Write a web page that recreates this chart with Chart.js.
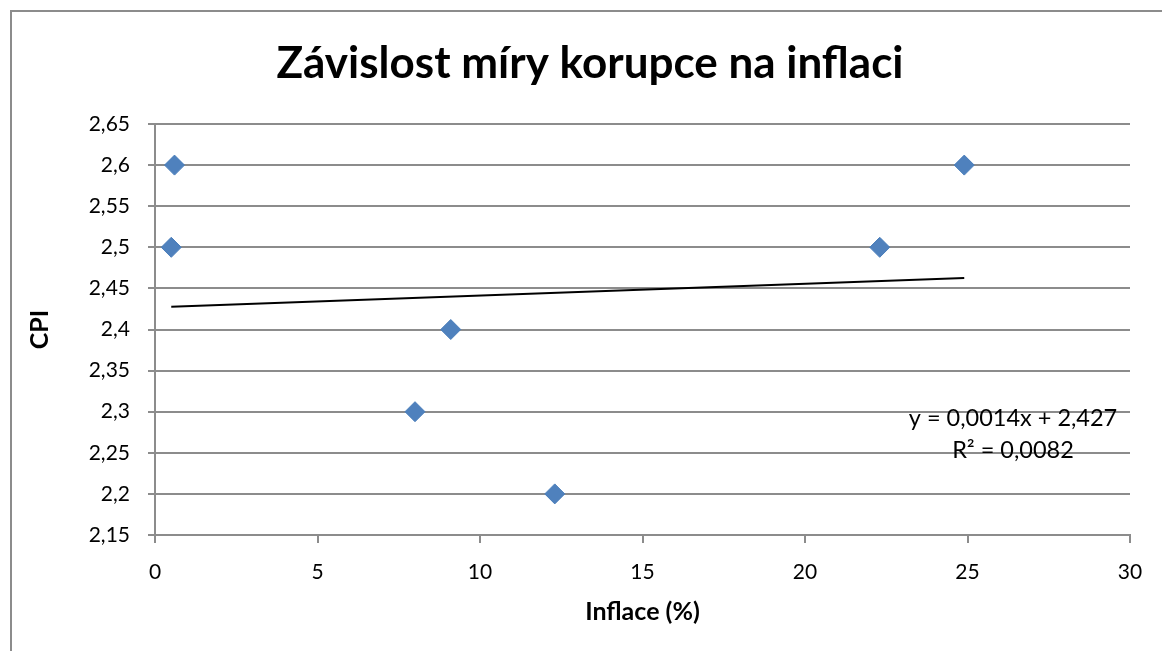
<!DOCTYPE html>
<html>
<head>
<meta charset="utf-8">
<script src="https://cdn.jsdelivr.net/npm/chart.js@4"></script>
<style>
    html, body { margin: 0; padding: 0; background: #fff; }
    #wrap { width: 1162px; height: 651px; }
</style>
</head>
<body>
<div id="wrap"><canvas id="chart" width="1162" height="651"></canvas></div>
<script>
// Data
const inflace = [0.6, 0.5, 8.0, 9.1, 12.3, 22.3, 24.9];
const cpi = [2.6, 2.5, 2.3, 2.4, 2.2, 2.5, 2.6];
const xTicks = [0, 5, 10, 15, 20, 25, 30];
const yTicks = [2.15, 2.2, 2.25, 2.3, 2.35, 2.4, 2.45, 2.5, 2.55, 2.6, 2.65];

const titleText = 'Závislost míry korupce na inflaci';
const xTitle = 'Inflace (%)';
const yTitle = 'CPI';

const fontFamily = 'Lato, "Open Sans", sans-serif';
const gridColor = '#8c8c8c';

// linear trendline (least squares) like the Excel one
function linearFit(xs, ys) {
    const n = xs.length;
    const mx = xs.reduce((a, b) => a + b, 0) / n;
    const my = ys.reduce((a, b) => a + b, 0) / n;
    let sxy = 0, sxx = 0, syy = 0;
    for (let i = 0; i < n; i++) {
        sxy += (xs[i] - mx) * (ys[i] - my);
        sxx += (xs[i] - mx) ** 2;
        syy += (ys[i] - my) ** 2;
    }
    const slope = sxy / sxx;
    return { slope: slope, intercept: my - slope * mx, r2: (sxy * sxy) / (sxx * syy) };
}
const fit = linearFit(inflace, cpi);
const trendX = [Math.min(...inflace), Math.max(...inflace)];
const comma = s => s.replace('.', ',');

const points = inflace.map((x, i) => ({ x: x, y: cpi[i] }));
const trend = trendX.map(x => ({ x: x, y: fit.intercept + fit.slope * x }));

// outer frame, title and equation text
const extras = {
    id: 'extras',
    beforeDraw(chart) {
        const c = chart.ctx;
        c.save();
        c.fillStyle = '#fff';
        c.fillRect(0, 0, chart.width, chart.height);
        c.strokeStyle = gridColor;
        c.lineWidth = 2;
        c.strokeRect(11, 11, chart.width + 20, chart.height + 20);

        // title is centred on the whole frame, not on the padded box
        c.fillStyle = '#000';
        c.font = 'bold 44px ' + fontFamily;
        c.textAlign = 'center';
        c.textBaseline = 'alphabetic';
        c.fillText(titleText, 590, 78);
        c.restore();
    },
    afterDatasetsDraw(chart) {
        const c = chart.ctx;
        const area = chart.chartArea;
        c.save();
        c.font = '23.5px ' + fontFamily;
        c.fillStyle = '#000';
        c.textAlign = 'center';
        c.textBaseline = 'middle';
        const cx = area.right - 117;
        c.fillText('y = ' + comma(fit.slope.toFixed(4)) + 'x + ' + comma(fit.intercept.toFixed(3)), cx, area.top + 294);
        c.fillText('R² = ' + comma(fit.r2.toFixed(4)), cx, area.top + 326);
        c.restore();
    }
};

const ctx = document.getElementById('chart').getContext('2d');
const chart = new Chart(ctx, {
    type: 'scatter',
    data: {
        datasets: [{
            label: 'CPI',
            data: points,
            pointStyle: 'rectRot',
            pointRadius: 10,
            pointHoverRadius: 10,
            backgroundColor: '#4F81BD',
            borderColor: '#4A7EBB',
            borderWidth: 1,
            order: 1
        }, {
            label: 'Trend',
            type: 'line',
            data: trend,
            borderColor: '#000',
            borderWidth: 2,
            pointRadius: 0,
            fill: false,
            order: 2
        }]
    },
    options: {
        responsive: false,
        animation: false,
        layout: { padding: { left: 0, right: 32, top: 124, bottom: 0 } },
        plugins: {
            legend: { display: false },
            tooltip: { enabled: false },
            title: { display: false }
        },
        scales: {
            x: {
                type: 'linear',
                min: 0,
                max: 30,
                afterBuildTicks: s => { s.ticks = xTicks.map(v => ({ value: v })); },
                afterFit: s => { s.height = 116; },
                grid: { drawOnChartArea: false, drawTicks: true, tickLength: 8, color: gridColor, lineWidth: 2 },
                border: { display: true, color: gridColor, width: 2 },
                ticks: {
                    color: '#000',
                    padding: 17,
                    font: { family: fontFamily, size: 21 },
                    callback: v => comma(String(v))
                },
                title: {
                    display: true,
                    text: xTitle,
                    color: '#000',
                    font: { family: fontFamily, size: 25, weight: 'bold' },
                    padding: { top: 0, bottom: 24 }
                }
            },
            y: {
                type: 'linear',
                min: 2.15,
                max: 2.65,
                afterBuildTicks: s => { s.ticks = yTicks.map(v => ({ value: v })); },
                afterFit: s => { s.width = 155; },
                grid: { drawOnChartArea: true, drawTicks: true, tickLength: 7, color: gridColor, lineWidth: 2 },
                border: { display: true, color: gridColor, width: 2 },
                ticks: {
                    color: '#000',
                    padding: 18,
                    font: { family: fontFamily, size: 21 },
                    callback: v => comma(String(Number(v.toFixed(2))))
                },
                title: {
                    display: true,
                    text: yTitle,
                    color: '#000',
                    font: { family: fontFamily, size: 25, weight: 'bold' },
                    padding: { top: 25, bottom: 0 }
                }
            }
        }
    },
    plugins: [extras]
});
</script>
</body>
</html>
